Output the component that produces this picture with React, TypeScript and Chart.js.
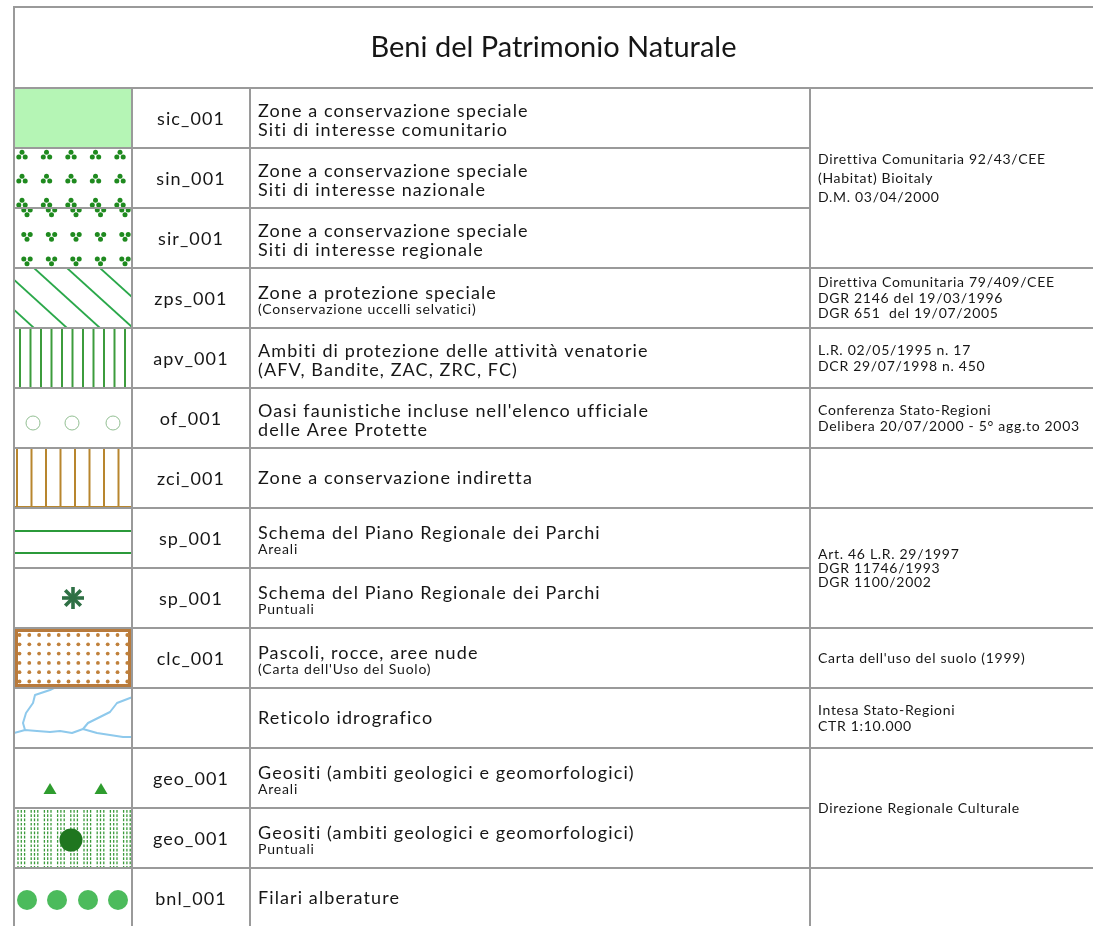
import React, { useEffect, useRef } from 'react';
import { Chart, registerables } from 'chart.js';

Chart.register(...registerables);

// ---------- data ----------
const TITLE = 'Beni del Patrimonio Naturale';

const codes = ['sic_001', 'sin_001', 'sir_001', 'zps_001', 'apv_001', 'of_001', 'zci_001', 'sp_001', 'sp_001', 'clc_001', '', 'geo_001', 'geo_001', 'bnl_001'];

const descMain = [
  'Zone a conservazione speciale',
  'Zone a conservazione speciale',
  'Zone a conservazione speciale',
  'Zone a protezione speciale',
  'Ambiti di protezione delle attività venatorie',
  "Oasi faunistiche incluse nell'elenco ufficiale",
  'Zone a conservazione indiretta',
  'Schema del Piano Regionale dei Parchi',
  'Schema del Piano Regionale dei Parchi',
  'Pascoli, rocce, aree nude',
  'Reticolo idrografico',
  'Geositi (ambiti geologici e geomorfologici)',
  'Geositi (ambiti geologici e geomorfologici)',
  'Filari alberature',
];

const descSub = [
  'Siti di interesse comunitario',
  'Siti di interesse nazionale',
  'Siti di interesse regionale',
  '(Conservazione uccelli selvatici)',
  '(AFV, Bandite, ZAC, ZRC, FC)',
  'delle Aree Protette',
  '',
  'Areali',
  'Puntuali',
  "(Carta dell'Uso del Suolo)",
  '',
  'Areali',
  'Puntuali',
  '',
];

const subIsSmall = [false, false, false, true, false, false, false, true, true, true, false, true, true, false];

const swatchKinds = ['fill', 'trefoilUp', 'trefoilDown', 'diagonal', 'vstripesGreen', 'circles', 'vstripesBrown', 'hlines', 'asterisk', 'dots', 'river', 'triangles', 'dashDot', 'rowDots'];

const sourceFirstRow = [0, 3, 4, 5, 6, 7, 9, 10, 11, 13];
const sourceLastRow = [2, 3, 4, 5, 6, 8, 9, 10, 12, 13];
const sourceText = [
  ['Direttiva Comunitaria 92/43/CEE', '(Habitat) Bioitaly', 'D.M. 03/04/2000'],
  ['Direttiva Comunitaria 79/409/CEE', 'DGR 2146 del 19/03/1996', 'DGR 651  del 19/07/2005'],
  ['L.R. 02/05/1995 n. 17', 'DCR 29/07/1998 n. 450'],
  ['Conferenza Stato-Regioni', 'Delibera 20/07/2000 - 5° agg.to 2003'],
  [],
  ['Art. 46 L.R. 29/1997', 'DGR 11746/1993', 'DGR 1100/2002'],
  ["Carta dell'uso del suolo (1999)"],
  ['Intesa Stato-Regioni', 'CTR 1:10.000'],
  ['Direzione Regionale Culturale'],
  [],
];
const sourceLineGap = [19, 15.5, 16, 16, 16, 14, 16, 16, 16, 16];

// column edges of the table (x-scale units)
const colEdges = [0, 118, 236, 796, 1079];

// ---------- style ----------
const GRID = '#9a9a9a';
const TEXT = '#161616';
const FONT = 'Lato, "Open Sans", sans-serif';

function drawSwatch(ctx: CanvasRenderingContext2D, kind: string, l: number, t: number, w: number, h: number) {
  ctx.save();
  ctx.beginPath();
  ctx.rect(l, t, w, h);
  ctx.clip();
  const cx = l + w / 2;
  const cy = t + h / 2;
  const dot = (x: number, y: number, r: number) => {
    ctx.beginPath();
    ctx.arc(x, y, r, 0, Math.PI * 2);
    ctx.fill();
  };
  const line = (x1: number, y1: number, x2: number, y2: number) => {
    ctx.beginPath();
    ctx.moveTo(x1, y1);
    ctx.lineTo(x2, y2);
    ctx.stroke();
  };
  switch (kind) {
    case 'trefoilUp': {
      ctx.fillStyle = '#1f8a1f';
      for (let r = 0; r < 3; r++)
        for (let k = 0; k < 5; k++) {
          const px = l + 8 + 24.5 * k;
          const py = t + 7 + 24 * r;
          dot(px, py - 2.8, 2.5);
          dot(px - 3.2, py + 2, 2.5);
          dot(px + 3.2, py + 2, 2.5);
        }
      break;
    }
    case 'trefoilDown': {
      ctx.fillStyle = '#1f8a1f';
      for (let r = 0; r < 3; r++)
        for (let k = 0; k < 5; k++) {
          const px = l + 13 + 24.5 * k;
          const py = t + 4 + 24.5 * r;
          dot(px - 3.2, py - 2, 2.5);
          dot(px + 3.2, py - 2, 2.5);
          dot(px, py + 2.8, 2.5);
        }
      break;
    }
    case 'diagonal': {
      ctx.strokeStyle = '#2aa84a';
      ctx.lineWidth = 1.8;
      for (let k = -4; k < 6; k++) {
        const x0 = l + 20 + 33 * k;
        line(x0, t, x0 + h * 1.1, t + h);
      }
      break;
    }
    case 'vstripesGreen': {
      ctx.strokeStyle = '#3c9c3c';
      ctx.lineWidth = 2;
      for (let x = l + 6; x < l + w; x += 10.5) line(x, t, x, t + h);
      break;
    }
    case 'circles': {
      ctx.strokeStyle = '#93bf93';
      ctx.lineWidth = 1;
      [19, 58, 99].forEach((dx) => {
        ctx.beginPath();
        ctx.arc(l + dx, cy + 5, 7, 0, Math.PI * 2);
        ctx.stroke();
      });
      break;
    }
    case 'vstripesBrown': {
      ctx.strokeStyle = '#b8862e';
      ctx.lineWidth = 2;
      for (let x = l + 3; x < l + w; x += 14.5) line(x, t, x, t + h);
      line(l, t + h - 1, l + w, t + h - 1);
      break;
    }
    case 'hlines': {
      ctx.strokeStyle = '#2b9a3a';
      ctx.lineWidth = 2;
      line(l, t + 23, l + w, t + 23);
      line(l, t + 45, l + w, t + 45);
      break;
    }
    case 'asterisk': {
      ctx.strokeStyle = '#2f7045';
      ctx.lineWidth = 3.6;
      const r = 11;
      for (let a = 0; a < 4; a++) {
        const ang = (a * Math.PI) / 4;
        line(cx - r * Math.cos(ang), cy - r * Math.sin(ang), cx + r * Math.cos(ang), cy + r * Math.sin(ang));
      }
      break;
    }
    case 'dots': {
      ctx.strokeStyle = '#b87a3c';
      ctx.lineWidth = 4;
      ctx.strokeRect(l + 2, t + 2, w - 4, h - 4);
      ctx.fillStyle = '#c0803a';
      for (let y = t + 7; y < t + h - 4; y += 9.3)
        for (let x = l + 5.5; x < l + w - 3; x += 9.8) dot(x, y, 1.9);
      break;
    }
    case 'river': {
      ctx.strokeStyle = '#8ec9ec';
      ctx.lineWidth = 2;
      ctx.lineJoin = 'round';
      const poly = (pts: number[][]) => {
        ctx.beginPath();
        pts.forEach(([px, py], i) => (i ? ctx.lineTo(l + px, t + py) : ctx.moveTo(l + px, t + py)));
        ctx.stroke();
      };
      poly([[0, 45], [11, 42], [23, 43], [36, 44], [46, 43], [58, 45], [69, 41], [83, 45], [96, 47], [109, 49], [118, 49]]);
      poly([[11, 42], [9, 35], [12, 25], [19, 15], [21, 7], [36, 2], [40, 0]]);
      poly([[69, 41], [74, 35], [86, 29], [96, 24], [103, 15], [116, 10], [119, 9]]);
      break;
    }
    case 'triangles': {
      ctx.fillStyle = '#2e9c2e';
      [36, 87].forEach((dx) => {
        const x = l + dx;
        const y = t + 41;
        ctx.beginPath();
        ctx.moveTo(x, y - 6);
        ctx.lineTo(x + 6.5, y + 5);
        ctx.lineTo(x - 6.5, y + 5);
        ctx.closePath();
        ctx.fill();
      });
      break;
    }
    case 'dashDot': {
      ctx.strokeStyle = '#3a9a3a';
      ctx.lineWidth = 1.3;
      ctx.setLineDash([2.7, 1.6]);
      let col = 0;
      for (let x = l + 4; x < l + w; x += 3.3) {
        if (col % 4 !== 3) line(x, t + 2, x, t + h);
        col++;
      }
      ctx.setLineDash([]);
      ctx.fillStyle = '#1f761f';
      dot(l + 57, t + 32, 11.5);
      break;
    }
    case 'rowDots': {
      ctx.fillStyle = '#4cbb5c';
      [13, 43, 74, 104].forEach((dx) => dot(l + dx, t + 32, 10));
      break;
    }
    default:
      break;
  }
  ctx.restore();
}

const swatchPlugin = {
  id: 'swatchPlugin',
  afterDatasetsDraw(chart: any) {
    const ctx = chart.ctx as CanvasRenderingContext2D;
    const meta = chart.getDatasetMeta(0);
    meta.data.forEach((el: any, i: number) => {
      const p = el.getProps(['x', 'y', 'base', 'height'], true);
      const l = Math.min(p.x, p.base);
      const r = Math.max(p.x, p.base);
      const t = p.y - p.height / 2;
      drawSwatch(ctx, swatchKinds[i], l, t, r - l, p.height);
    });
  },
};

const tablePlugin = {
  id: 'tablePlugin',
  afterDraw(chart: any) {
    const ctx = chart.ctx as CanvasRenderingContext2D;
    const xs = chart.scales.x;
    const ys = chart.scales.y;
    const area = chart.chartArea;
    const band = ys.getPixelForValue(1) - ys.getPixelForValue(0);
    const rowTop = (i: number) => ys.getPixelForValue(i) - band / 2;
    const rowCenter = (i: number) => ys.getPixelForValue(i);
    const X = colEdges.map((v) => xs.getPixelForValue(v));
    const titleTop = chart.titleBlock ? chart.titleBlock.top : area.top - 81;

    ctx.save();
    ctx.strokeStyle = GRID;
    ctx.lineWidth = 2;
    const hl = (y: number, x1: number, x2: number) => {
      ctx.beginPath();
      ctx.moveTo(x1, y);
      ctx.lineTo(x2, y);
      ctx.stroke();
    };
    const vl = (x: number, y1: number, y2: number) => {
      ctx.beginPath();
      ctx.moveTo(x, y1);
      ctx.lineTo(x, y2);
      ctx.stroke();
    };
    // outer / title box
    hl(titleTop, X[0] - 1, X[4] + 2);
    vl(X[0], titleTop - 1, area.bottom + 2);
    hl(area.top, X[0], X[4] + 2);
    // inner verticals
    vl(X[1], area.top, area.bottom + 2);
    vl(X[2], area.top, area.bottom + 2);
    vl(X[3], area.top, area.bottom + 2);
    // row boundaries
    for (let i = 1; i <= codes.length; i++) {
      const y = rowTop(i);
      hl(y, X[0], X[3]);
      const merged = sourceFirstRow.some((f, g) => i > f && i <= sourceLastRow[g]);
      if (!merged) hl(y, X[3], X[4] + 2);
    }

    // texts
    ctx.fillStyle = TEXT;
    ctx.textAlign = 'center';
    ctx.textBaseline = 'middle';
    (ctx as any).letterSpacing = '1.1px';
    ctx.font = `18px ${FONT}`;
    codes.forEach((c, i) => {
      if (c) ctx.fillText(c, (X[1] + X[2]) / 2, rowCenter(i) + 1);
    });

    ctx.textAlign = 'left';
    ctx.textBaseline = 'alphabetic';
    const dx = X[2] + 8;
    descMain.forEach((m, i) => {
      const c = rowCenter(i);
      const sub = descSub[i];
      ctx.font = `18px ${FONT}`;
      (ctx as any).letterSpacing = '1.1px';
      if (!sub) {
        ctx.fillText(m, dx, c + 6);
      } else if (subIsSmall[i]) {
        ctx.fillText(m, dx, c + 1);
        ctx.font = `14px ${FONT}`;
        (ctx as any).letterSpacing = '0.8px';
        ctx.fillText(sub, dx, c + 16);
      } else {
        ctx.fillText(m, dx, c - 1);
        ctx.fillText(sub, dx, c + 18);
      }
    });

    ctx.font = `14px ${FONT}`;
    (ctx as any).letterSpacing = '0.7px';
    ctx.textBaseline = 'middle';
    const sx = X[3] + 8;
    sourceText.forEach((lines, g) => {
      if (!lines.length) return;
      const c = (rowTop(sourceFirstRow[g]) + rowTop(sourceLastRow[g] + 1)) / 2;
      const gap = sourceLineGap[g];
      const start = c - ((lines.length - 1) * gap) / 2;
      lines.forEach((s, k) => ctx.fillText(s, sx, start + k * gap));
    });
    ctx.restore();
  },
};

export default function App() {
  const ref = useRef<HTMLCanvasElement | null>(null);
  useEffect(() => {
    document.body.style.margin = '0';
    document.documentElement.style.overflow = 'hidden';
    document.body.style.overflow = 'hidden';
    const canvas = ref.current;
    if (!canvas) return;
    const chart = new Chart(canvas, {
      type: 'bar',
      data: {
        labels: codes.map((_, i) => String(i)),
        datasets: [
          {
            label: 'Simbolo',
            data: codes.map(() => [colEdges[0], colEdges[1]]) as any,
            backgroundColor: swatchKinds.map((k) => (k === 'fill' ? '#b5f5b5' : '#ffffff')),
            borderWidth: 0,
            barPercentage: 1,
            categoryPercentage: 1,
          },
        ],
      },
      options: {
        indexAxis: 'y',
        responsive: false,
        animation: false,
        devicePixelRatio: 1,
        layout: { padding: { left: 14, right: 0, top: 7, bottom: 2 } },
        scales: {
          x: { type: 'linear', min: colEdges[0], max: colEdges[4], display: false },
          y: { type: 'category', display: false, offset: true },
        },
        plugins: {
          legend: { display: false },
          tooltip: { enabled: false },
          title: {
            display: true,
            text: TITLE,
            fullSize: false,
            color: TEXT,
            font: { family: FONT, size: 29, weight: 'normal', lineHeight: 1.2 },
            padding: { top: 23, bottom: 23.2 },
          },
        },
      },
      plugins: [swatchPlugin, tablePlugin],
    });
    return () => chart.destroy();
  }, []);
  return (
    <div style={{ width: 1093, height: 926, overflow: 'hidden', background: '#fff' }}>
      <canvas ref={ref} width={1093} height={930} style={{ display: 'block' }} />
    </div>
  );
}
